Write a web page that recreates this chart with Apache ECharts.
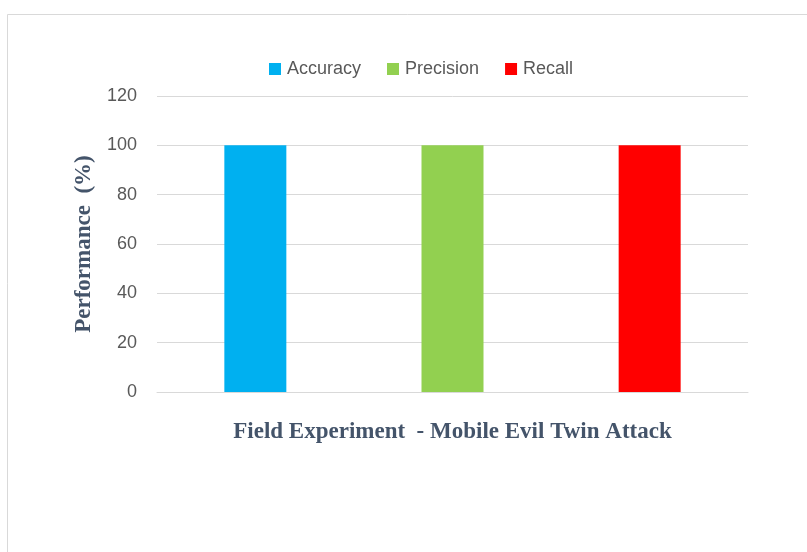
<!DOCTYPE html>
<html>
<head>
<meta charset="utf-8">
<style>
  html, body { margin: 0; padding: 0; background: #fff; }
  #chart { width: 807px; height: 552px; }
</style>
<script src="https://cdn.jsdelivr.net/npm/echarts@6/dist/echarts.min.js"></script>
</head>
<body>
<div id="chart"></div>
<script>
// Chart data
const categories = ['Field Experiment  - Mobile Evil Twin Attack'];
const seriesNames = ['Accuracy', 'Precision', 'Recall'];
const seriesColors = ['#00b0f0', '#92d050', '#ff0000'];
const accuracy = [100];
const precision = [100];
const recall = [100];
const seriesValues = [accuracy, precision, recall];
const yTicks = [0, 20, 40, 60, 80, 100, 120];

const chart = echarts.init(document.getElementById('chart'));

const series = seriesNames.map((name, i) => ({
  name: name,
  type: 'bar',
  data: seriesValues[i],
  barWidth: 62,
  barGap: '218%',
  itemStyle: { color: seriesColors[i] }
}));

chart.setOption({
  animation: false,
  backgroundColor: '#ffffff',
  graphic: [{
    type: 'rect',
    shape: { x: 7.5, y: 14.5, width: 830, height: 560 },
    style: { fill: 'none', stroke: '#d9d9d9', lineWidth: 1 },
    silent: true
  }],
  legend: {
    data: seriesNames,
    top: 55,
    left: 264,
    itemWidth: 12,
    itemHeight: 12,
    itemGap: 26,
    icon: 'rect',
    textStyle: { color: '#595959', fontSize: 18, fontFamily: 'Liberation Sans, sans-serif', padding: [0, 0, 0, 1] }
  },
  grid: { left: 157, right: 59, top: 96, bottom: 160 },
  xAxis: {
    type: 'category',
    data: categories,
    axisLine: { show: true, lineStyle: { color: '#d9d9d9', width: 1 } },
    axisTick: { show: false },
    axisLabel: {
      margin: 29,
      color: '#44546a',
      fontSize: 23,
      fontWeight: 'bold',
      fontFamily: 'Liberation Serif, serif'
    }
  },
  yAxis: {
    type: 'value',
    min: yTicks[0],
    max: yTicks[yTicks.length - 1],
    interval: 20,
    name: 'Performance  (%)',
    nameLocation: 'middle',
    nameGap: 61,
    nameTextStyle: {
      color: '#44546a',
      fontSize: 23,
      fontWeight: 'bold',
      fontFamily: 'Liberation Serif, serif'
    },
    axisLine: { show: false },
    axisTick: { show: false },
    splitLine: { lineStyle: { color: '#d9d9d9', width: 1 } },
    axisLabel: {
      margin: 20,
      color: '#595959',
      fontSize: 18,
      fontFamily: 'Liberation Sans, sans-serif'
    }
  },
  series: series
});
</script>
</body>
</html>
